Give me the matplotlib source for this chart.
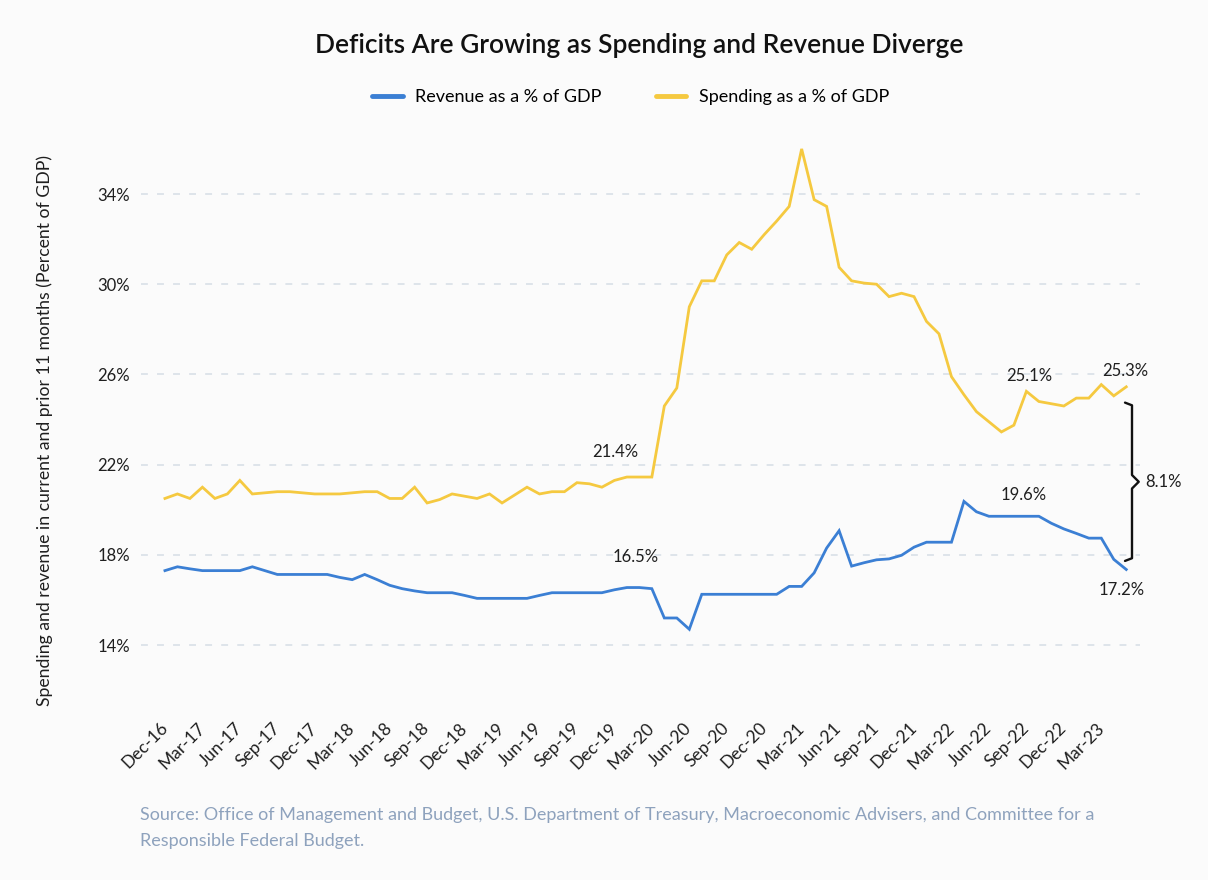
import matplotlib
matplotlib.use("Agg")
import matplotlib.pyplot as plt
import numpy as np

plt.rcParams['font.family'] = ['Lato', 'DejaVu Sans']

# monthly, Dec-16 .. May-23
spending = [20.5, 20.7, 20.5, 21.0, 20.5, 20.7, 21.3, 20.7, 20.75, 20.8,
            20.8, 20.75, 20.7, 20.7, 20.7, 20.75, 20.8, 20.8, 20.5, 20.5,
            21.0, 20.3, 20.45, 20.7, 20.6, 20.5, 20.7, 20.3, 20.65, 21.0,
            20.7, 20.8, 20.8, 21.2, 21.15, 21.0, 21.3, 21.45, 21.45, 21.45,
            24.6, 25.4, 29.0, 30.15, 30.15, 31.3, 31.85, 31.55, 32.2, 32.8,
            33.45, 36.0, 33.75, 33.45, 30.75, 30.15, 30.05, 30.0, 29.45, 29.6,
            29.45, 28.35, 27.8, 25.9, 25.1, 24.35, 23.9, 23.45, 23.75, 25.25,
            24.8, 24.7, 24.6, 24.95, 24.95, 25.55, 25.05, 25.45]
revenue = [17.3, 17.47, 17.38, 17.3, 17.3, 17.3, 17.3, 17.47, 17.3, 17.13,
           17.13, 17.13, 17.13, 17.13, 17.0, 16.9, 17.13, 16.9, 16.65, 16.5,
           16.4, 16.32, 16.32, 16.32, 16.2, 16.07, 16.07, 16.07, 16.07, 16.07,
           16.2, 16.32, 16.32, 16.32, 16.32, 16.32, 16.45, 16.55, 16.55, 16.5,
           15.2, 15.2, 14.7, 16.25, 16.25, 16.25, 16.25, 16.25, 16.25, 16.25,
           16.6, 16.6, 17.2, 18.3, 19.07, 17.5, 17.65, 17.78, 17.82, 17.98,
           18.34, 18.56, 18.56, 18.56, 20.37, 19.91, 19.71, 19.71, 19.71, 19.71,
           19.71, 19.4, 19.15, 18.95, 18.74, 18.74, 17.8, 17.35]
tick_labels = ['Dec-16', 'Mar-17', 'Jun-17', 'Sep-17', 'Dec-17', 'Mar-18',
               'Jun-18', 'Sep-18', 'Dec-18', 'Mar-19', 'Jun-19', 'Sep-19',
               'Dec-19', 'Mar-20', 'Jun-20', 'Sep-20', 'Dec-20', 'Mar-21',
               'Jun-21', 'Sep-21', 'Dec-21', 'Mar-22', 'Jun-22', 'Sep-22',
               'Dec-22', 'Mar-23']
y_ticks = [14, 18, 22, 26, 30, 34]
# labelled values: (text value, month index, series)
callouts = [(21.4, 38, 'spend'), (16.5, 38, 'rev'), (25.1, 69, 'spend'),
            (25.3, 77, 'spend'), (19.6, 69, 'rev'), (17.2, 77, 'rev')]

BLUE = '#3b7fd4'
YELLOW = '#f5c940'
TEXT = '#1f1f1f'
BG = '#fbfbfb'

x = np.arange(len(spending))

fig = plt.figure(figsize=(12.08, 8.8), dpi=100, facecolor=BG)
ax = fig.add_axes([0.1167, 0.1773, 0.827, 0.6663], facecolor=BG)

for v in y_ticks:
    ax.axhline(v, color='#d6dde5', lw=1.1, dashes=(4.5, 6), zorder=0)

ax.plot(x, revenue, color=BLUE, lw=2, label='Revenue as a % of GDP',
        solid_joinstyle='miter')
ax.plot(x, spending, color=YELLOW, lw=2, label='Spending as a % of GDP',
        solid_joinstyle='miter')

ax.set_xlim(-1.92, 78.1)
ax.set_ylim(10.5, 36.5)
ax.set_yticks(y_ticks)
ax.set_yticklabels(['%d%%' % v for v in y_ticks])
ax.set_xticks(np.arange(0, 3 * len(tick_labels), 3))
ax.set_xticklabels(tick_labels, rotation=45, ha='right', va='center',
                   rotation_mode='anchor')
ax.tick_params(axis='y', length=0, pad=8, labelsize=12, labelcolor=TEXT)
ax.tick_params(axis='x', length=0, pad=1, labelsize=12.5, labelcolor=TEXT)
for s in ax.spines.values():
    s.set_visible(False)

# value labels
series = {'spend': spending, 'rev': revenue}
offsets = [(-17, 18), (-3, 22), (2, 11), (-1, 11.5), (-2, 15), (-3, -15)]
for (val, i, key), (dx, dy) in zip(callouts, offsets):
    ax.annotate('%.1f%%' % val, (i, series[key][i]), xytext=(dx, dy),
                textcoords='offset points', ha='center', va='center',
                fontsize=12, color=TEXT)

# gap brace
top = spending[-1] - 0.7
bot = revenue[-1] + 0.38
mid = (top + bot) / 2
xv, xh, xt = 77.46, 76.9, 78.0
ax.plot([xh, xv, xv, xt, xv, xv, xh],
        [top, top - 0.12, mid + 0.3, mid, mid - 0.3, bot + 0.12, bot],
        color='#111111', lw=1.7, clip_on=False, solid_joinstyle='round',
        solid_capstyle='round')
ax.text(xt + 0.55, mid, '%.1f%%' % (callouts[3][0] - callouts[5][0]),
        ha='left', va='center', fontsize=12, color=TEXT)

fig.text(0.529, 1 - 45 / 880, 'Deficits Are Growing as Spending and Revenue Diverge',
         ha='center', va='center', fontsize=19, fontweight='semibold', color='#111111')
leg = fig.legend(loc='center', bbox_to_anchor=(0.522, 1 - 97 / 880), ncol=2,
                 frameon=False, fontsize=13, handlelength=1.7, handletextpad=0.7,
                 columnspacing=3.0)
for h in leg.get_lines():
    h.set_linewidth(3.5)
    h.set_solid_capstyle('round')

fig.text(45 / 1208, 1 - 430 / 880,
         'Spending and revenue in current and prior 11 months (Percent of GDP)',
         rotation=90, ha='center', va='center', fontsize=12.7, color=TEXT)

fig.text(140 / 1208, 1 - 815 / 880,
         'Source: Office of Management and Budget, U.S. Department of Treasury, '
         'Macroeconomic Advisers, and Committee for a',
         ha='left', va='center', fontsize=13, color='#8ea2bd')
fig.text(140 / 1208, 1 - 841 / 880, 'Responsible Federal Budget.',
         ha='left', va='center', fontsize=13, color='#8ea2bd')

fig.savefig('out.png', dpi=100, facecolor=BG)
